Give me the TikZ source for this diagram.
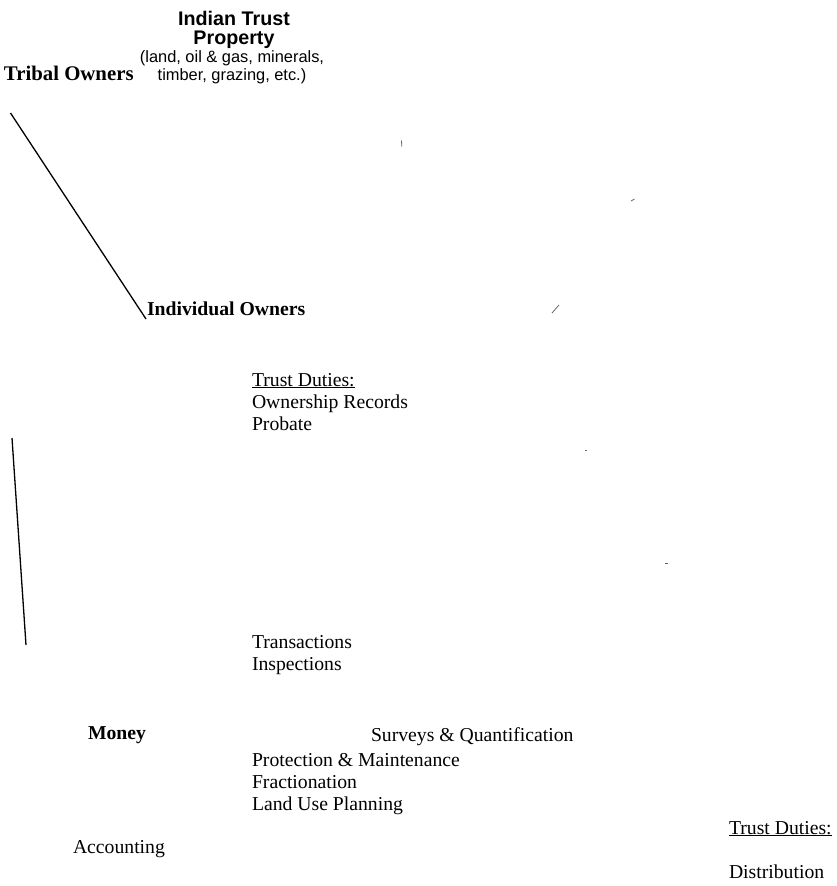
\documentclass[tikz,border=0pt]{standalone}
\usepackage{fontspec}
\setmainfont{Liberation Serif}
\newfontfamily\arialfont{Liberation Sans}
\begin{document}
\begin{tikzpicture}[x=1pt,y=-1pt,
  every node/.style={inner sep=0pt, outer sep=0pt},
  serif/.style={font=\fontsize{19.7}{22.6}\selectfont, anchor=base west},
  serifbold/.style={font=\fontsize{19.7}{22.6}\selectfont\bfseries, anchor=base west},
  title/.style={font=\arialfont\fontsize{19.7}{22}\selectfont\bfseries, anchor=base},
  subtitle/.style={font=\arialfont\fontsize{16.4}{19}\selectfont, anchor=base},
  rule/.style={line width=1.3pt, black},
  speck/.style={line width=0.8pt, black!60}]
\useasboundingbox (0,0) rectangle (837,886);
% title block
\node[title] (t1) at (234,25) {Indian Trust};
\node[title] (t2) at (234,44) {Property};
\node[subtitle] (t3) at (232,62) {(land, oil \& gas, minerals,};
\node[subtitle] (t4) at (232,80) {timber, grazing, etc.)};
\node[serifbold, font=\fontsize{20.8}{24}\selectfont\bfseries] (tribal) at (4,80) {Tribal Owners};
\node[serifbold] (indiv) at (147,315) {Individual Owners};
% duties block 1
\node[serif] (td1) at (252,386) {\underline{Trust Duties:}};
\node[serif] (own) at (252,408) {Ownership Records};
\node[serif] (prob) at (252,430) {Probate};
\node[serif] (trans) at (252,648) {Transactions};
\node[serif] (insp) at (252,670) {Inspections};
\node[serifbold] (money) at (88,739) {Money};
\node[serif] (surv) at (371,741) {Surveys \& Quantification};
\node[serif] (prot) at (252,766) {Protection \& Maintenance};
\node[serif] (frac) at (252,788) {Fractionation};
\node[serif] (land) at (252,810) {Land Use Planning};
\node[serif] (td2) at (729,834) {\underline{Trust Duties:}};
\node[serif] (acc) at (73,853) {Accounting};
\node[serif] (dist) at (729,878) {Distribution};
% lines
\coordinate (a1) at (10.5,113);
\coordinate (a2) at (146,319);
\draw[rule] (a1) -- (a2);
\coordinate (b1) at (12,438);
\coordinate (b2) at (26,645);
\draw[rule] (b1) -- (b2);
% specks
\coordinate (s1a) at (401.5,140.5); \coordinate (s1b) at (401.8,146.5);
\draw[speck] (s1a) -- (s1b);
\coordinate (s2a) at (631,201); \coordinate (s2b) at (634.5,199);
\draw[speck] (s2a) -- (s2b);
\coordinate (s3a) at (552,313); \coordinate (s3b) at (559,305);
\draw[speck] (s3a) -- (s3b);
\coordinate (s4a) at (585,450); \coordinate (s4b) at (586.5,450);
\draw[speck] (s4a) -- (s4b);
\coordinate (s5a) at (665,563); \coordinate (s5b) at (667.5,563);
\draw[speck] (s5a) -- (s5b);
\end{tikzpicture}
\end{document}
